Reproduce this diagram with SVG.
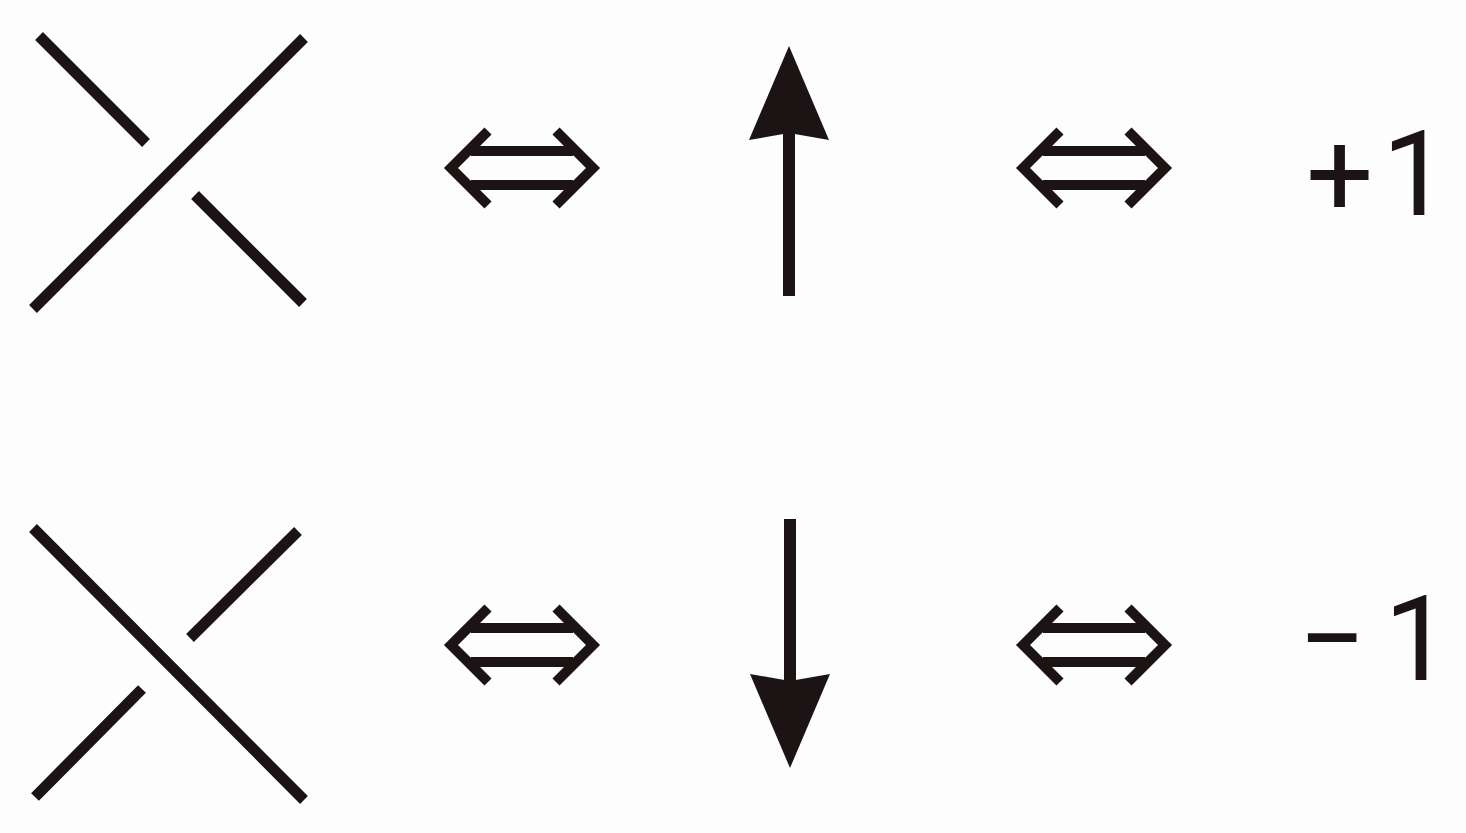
<svg xmlns="http://www.w3.org/2000/svg" width="1466" height="833" viewBox="0 0 1466 833">
<style>
.s{stroke:#1c1414;stroke-width:11;fill:none;stroke-linecap:butt}
.d{stroke:#1c1414;stroke-width:10;fill:none;stroke-linecap:butt;stroke-linejoin:miter}
.h{fill:#1c1414}
.t{font-family:Roboto,"Noto Sans",sans-serif;font-size:119px;fill:#1c1414}
</style>
<defs>
<g id="dbl">
<path class="d" d="M40,-37 L3,0 L40,37 M108,-37 L145,0 L108,37"/>
<path class="d" d="M23,-17 H125 M23,17 H125"/>
</g>
</defs>
<rect width="1466" height="833" fill="#fdfdfd"/>
<g id="crossing-positive">
<line class="s" x1="304" y1="38" x2="33" y2="309"/>
<line class="s" x1="39" y1="36" x2="146" y2="143"/>
<line class="s" x1="195" y1="195" x2="303" y2="303"/>
</g>
<g id="crossing-negative">
<line class="s" x1="33" y1="528" x2="304" y2="800"/>
<line class="s" x1="298" y1="531" x2="190" y2="638"/>
<line class="s" x1="142" y1="689" x2="35" y2="797"/>
</g>
<g id="arrow-up">
<rect class="h" x="783" y="132" width="12" height="164"/>
<path class="h" d="M789,46 L829,140 L789,133 L749,140 Z"/>
</g>
<g id="arrow-down">
<rect class="h" x="784" y="519" width="12" height="162"/>
<path class="h" d="M790,768 L830,674 L790,681 L750,674 Z"/>
</g>
<g id="connectors">
<use href="#dbl" x="448" y="168"/>
<use href="#dbl" x="1020" y="168"/>
<use href="#dbl" x="448" y="645"/>
<use href="#dbl" x="1020" y="645"/>
</g>
<g id="label-plus">
<text class="t" y="215"><tspan x="1306">+</tspan><tspan x="1382">1</tspan></text>
</g>
<g id="label-minus">
<text class="t" y="680"><tspan x="1298">−</tspan><tspan x="1384">1</tspan></text>
</g>
</svg>
